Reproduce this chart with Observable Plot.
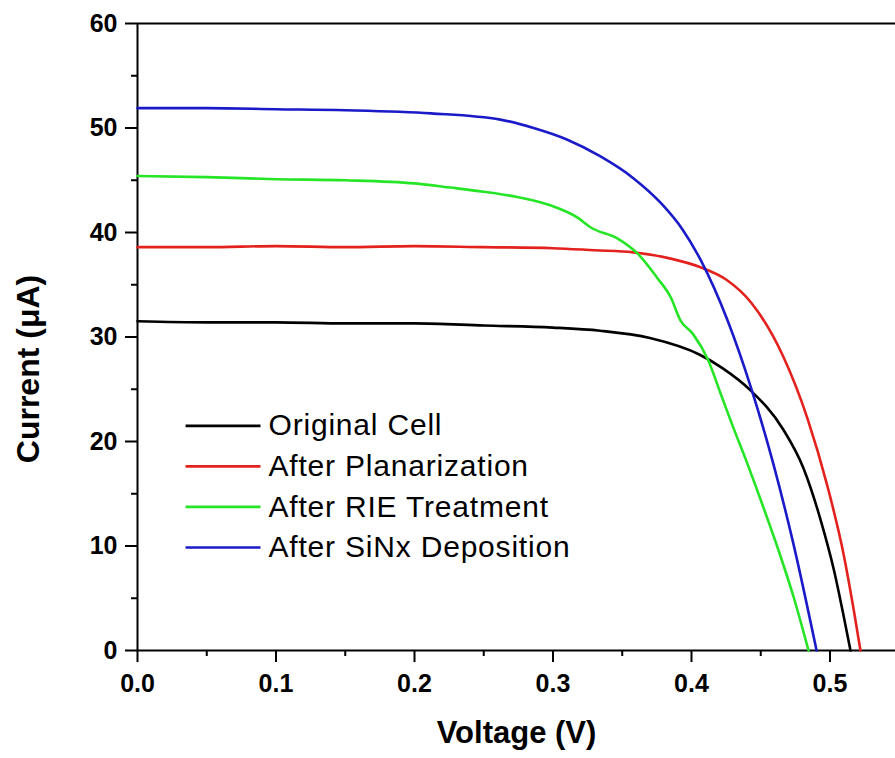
<!DOCTYPE html>
<html><head><meta charset="utf-8">
<script src="https://cdn.jsdelivr.net/npm/d3@7"></script>
<script src="https://cdn.jsdelivr.net/npm/@observablehq/plot@0.6"></script>
<style>body{margin:0;background:#fff;} svg{display:block;}</style>
</head><body><div id="chart"></div>
<script>
const seriesNames = ["Original Cell", "After Planarization", "After RIE Treatment", "After SiNx Deposition"];
const seriesColors = ["#000000", "#e3221e", "#26e426", "#1a1ac8"];

const vOriginal = [0, 0.05, 0.10, 0.15, 0.20, 0.25, 0.30, 0.334, 0.370, 0.406, 0.4226, 0.4426, 0.466, 0.481, 0.493, 0.503, 0.510, 0.5148];
const iOriginal = [31.5, 31.4, 31.4, 31.3, 31.3, 31.1, 30.9, 30.6, 29.9, 28.3, 27.0, 24.9, 21.2, 17.4, 12.6, 7.6, 3.2, 0];

const vPlanar = [0, 0.05, 0.10, 0.15, 0.20, 0.25, 0.30, 0.33, 0.358, 0.385, 0.406, 0.425, 0.443, 0.466, 0.484, 0.498, 0.510, 0.517, 0.522];
const iPlanar = [38.6, 38.6, 38.7, 38.6, 38.7, 38.6, 38.5, 38.3, 38.1, 37.5, 36.7, 35.5, 33.3, 28.2, 22.1, 15.8, 9.1, 4.0, 0];

const vRIE = [0, 0.05, 0.10, 0.15, 0.20, 0.226, 0.25, 0.274, 0.298, 0.318, 0.327, 0.347, 0.361, 0.375, 0.385, 0.392, 0.401, 0.412, 0.421, 0.430, 0.440, 0.450, 0.4628, 0.474, 0.4845];
const iRIE = [45.4, 45.3, 45.1, 45.0, 44.7, 44.3, 43.9, 43.4, 42.6, 41.4, 40.5, 39.4, 38.0, 35.7, 33.8, 31.6, 30.3, 27.8, 24.6, 21.4, 18.0, 14.4, 9.6, 5.0, 0];

const vSiNx = [0, 0.05, 0.10, 0.15, 0.212, 0.262, 0.286, 0.310, 0.334, 0.358, 0.378, 0.394, 0.4065, 0.426, 0.4426, 0.459, 0.4736, 0.4903];
const iSiNx = [51.9, 51.9, 51.8, 51.7, 51.4, 50.8, 50.0, 48.9, 47.3, 45.2, 42.8, 40.2, 37.4, 31.6, 25.3, 17.9, 10.2, 0];

const xTicks = [0, 0.1, 0.2, 0.3, 0.4, 0.5];
const xMinorTicks = [0.05, 0.15, 0.25, 0.35, 0.45];
const yTicks = [0, 10, 20, 30, 40, 50, 60];
const yMinorTicks = [5, 15, 25, 35, 45, 55];

const seriesV = [vOriginal, vPlanar, vRIE, vSiNx];
const seriesI = [iOriginal, iPlanar, iRIE, iSiNx];
const rows = [];
seriesNames.forEach((name, k) => {
  seriesV[k].forEach((v, j) => rows.push({series: name, v, i: seriesI[k][j]}));
});

// legend layout (in data units)
const legX1 = 0.0347, legX2 = 0.0888, legTextX = 0.0946, legY0 = 21.5, legStep = 3.88;
const legY = (d, i) => legY0 - i * legStep;

const font = "'Liberation Sans', Arial, Helvetica, sans-serif";

const chart = Plot.plot({
  width: 895,
  height: 758,
  marginLeft: 137,
  marginRight: 0,
  marginTop: 23,
  marginBottom: 108,
  style: {fontFamily: font, background: "#fff", color: "#000"},
  x: {domain: [0, 0.5473], label: null},
  y: {domain: [0, 60], label: null},
  color: {domain: seriesNames, range: seriesColors},
  marks: [
    Plot.ruleY([60], {stroke: "#000", strokeWidth: 2}),
    Plot.ruleY([0], {stroke: "#000", strokeWidth: 2}),
    Plot.ruleX([0], {stroke: "#000", strokeWidth: 2}),
    Plot.axisX({ticks: xTicks, tickSize: 12, tickPadding: 12, tickFormat: d3.format(".1f"), fontSize: 25, fontWeight: "bold", strokeWidth: 2, label: null}),
    Plot.axisX({ticks: xMinorTicks, tickSize: 6, tickFormat: () => "", strokeWidth: 2, label: null}),
    Plot.axisY({ticks: yTicks, tickSize: 12, tickPadding: 8, tickFormat: d => String(d), fontSize: 25, fontWeight: "bold", strokeWidth: 2, label: null}),
    Plot.axisY({ticks: yMinorTicks, tickSize: 6, tickFormat: () => "", strokeWidth: 2, label: null}),
    Plot.line(rows, {x: "v", y: "i", z: "series", stroke: "series", curve: "monotone-x", strokeWidth: 2.6}),
    Plot.link(seriesNames, {x1: legX1, x2: legX2, y1: legY, y2: legY, stroke: d => d, strokeWidth: 2.6}),
    Plot.text(seriesNames, {x: legTextX, y: legY, text: d => d, textAnchor: "start", lineAnchor: "middle", fontSize: 30, fill: "#000"}),
    Plot.text(["Voltage (V)"], {frameAnchor: "bottom", dy: 83, text: d => d, textAnchor: "middle", lineAnchor: "middle", fontSize: 31, fontWeight: "bold", fill: "#000"}),
    Plot.text(["Current (\u03bcA)"], {frameAnchor: "left", dx: -109, dy: 32, rotate: -90, text: d => d, textAnchor: "middle", lineAnchor: "middle", fontSize: 32, fontWeight: "bold", fill: "#000"})
  ]
});
// widen the legend lettering slightly, as in the reference
d3.select(chart).selectAll("text").filter(function() { return seriesNames.includes(this.textContent); }).attr("letter-spacing", "0.8");
document.getElementById("chart").appendChild(chart);
</script>
</body></html>
